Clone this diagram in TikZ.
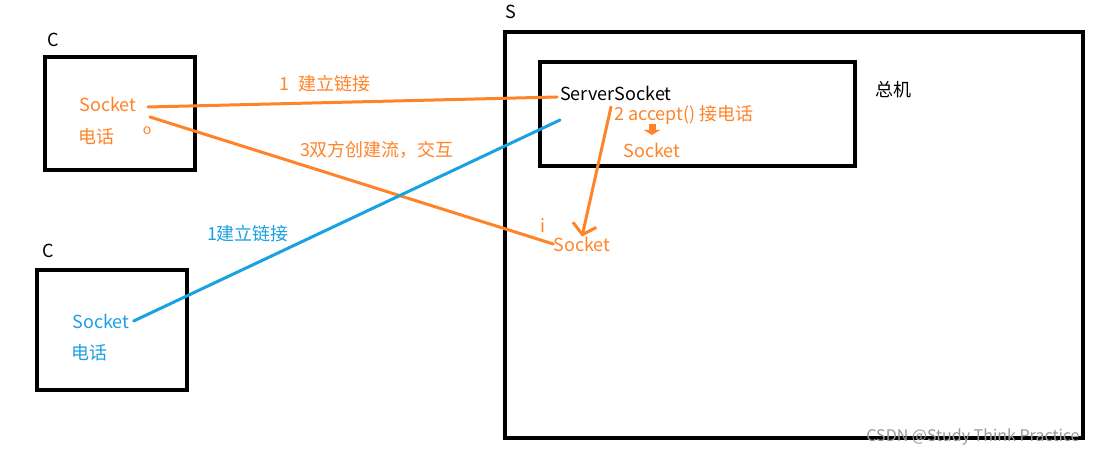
\documentclass[tikz,border=0pt]{standalone}
\usepackage{fontspec}
\setmainfont{Noto Sans CJK SC}
\usetikzlibrary{arrows.meta}
\definecolor{sockorange}{HTML}{FF8429}
\definecolor{sockblue}{HTML}{1BA1E2}
\tikzstyle{box} = [draw, line width=4pt]
\tikzstyle{txt} = [inner sep=0pt, font=\fontsize{18}{20}\selectfont]
\tikzstyle{oline} = [draw=sockorange, line width=3pt, line cap=round]
\tikzstyle{bline} = [draw=sockblue, line width=3pt, line cap=round]
\begin{document}
\begin{tikzpicture}[x=1pt, y=-1pt]
	\useasboundingbox (0,0) rectangle (1114,457);
	\fill [white] (0,0) rectangle (1114,457);
	
	% boxes
	\draw [box] (45,57) rectangle (195,170);
	\draw [box] (37,270) rectangle (187,390);
	\draw [box] (505,32) rectangle (1083,438);
	\draw [box] (540,62) rectangle (855,166);
	
	\node [txt] (c1) at (53,40) {C};
	\node [txt] (c2) at (48,251) {C};
	\node [txt] (s) at (511,12) {S};
	\node [txt] (zj) at (893,90) {总机};
	
	% clients
	\node [txt, text=sockorange] (sk1) at (108,104) {Socket};
	\node [txt, text=sockorange] (dh1) at (96,137) {电话};
	\node [txt, text=sockorange, font=\fontsize{14}{15}\selectfont] (o) at (147,131) {o};
	\node [txt, text=sockblue] (sk2) at (101,321) {Socket};
	\node [txt, text=sockblue] (dh2) at (89,353) {电话};
	
	% server
	\node [txt, anchor=west] (ss) at (560,93) {ServerSocket};
	\node [txt, text=sockorange, anchor=west] (acc) at (614,115) {2 accept() 接电话};
	\node [txt, text=sockorange] (sk3) at (652,150) {Socket};
	\node [txt, text=sockorange] (ii) at (543,226) {i};
	\node [txt, text=sockorange] (sk4) at (582,244) {Socket};
	\draw [-{Triangle[width=16pt,length=5pt]}, line width=7pt, sockorange] (652,124) -- (652,135);
	
	% connectors
	\coordinate (a1) at (148,107);
	\coordinate (a2) at (557,97);
	\draw [oline] (a1) -- (a2);
	\coordinate (b1) at (150,117);
	\draw [oline] (b1) -- (sk4.west);
	\coordinate (c1s) at (611,107);
	\draw [oline, -{Straight Barb[length=10pt,width=24pt]}] (c1s) -- (sk4.north);
	\coordinate (d2) at (560,120);
	\draw [bline] (sk2.east) ++(4,0) -- (d2);
	
	\node [txt, text=sockorange] (l1) at (325,84) {1\ \ 建立链接};
	\node [txt, text=sockorange] (l3) at (377,150) {3双方创建流，交互};
	\node [txt, text=sockblue] (l2) at (248,234) {1建立链接};
	\node [txt, text=black!40, font=\fontsize{16}{18}\selectfont] (wm) at (973,437) {CSDN @Study Think Practice};
\end{tikzpicture}
\end{document}
